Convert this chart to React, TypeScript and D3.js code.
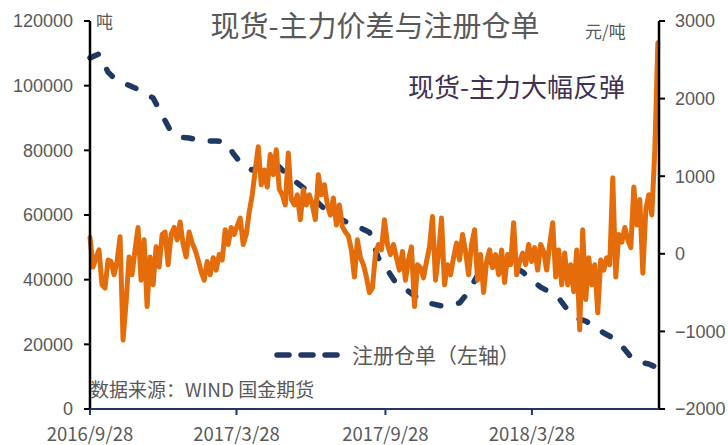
import React from "react";
import * as d3 from "d3";

// 现货-主力价差 (元/吨, right axis) sampled observations
const spreadValues: number[] = [
  210, -170, -50, 50, -400, -440, -80, -100, -270, -100,
  220, -1110, -630, -40, -270, 50, 340, -340, 180, -680,
  -40, -400, 90, -170, 250, 280, -140, 250, 340, 180,
  410, 120, -40, 280, 140, 50, -80, -230, -340, -100,
  -270, -50, -210, -10, -80, 310, 120, 340, 250, 360,
  460, 120, 250, 540, 760, 1080, 1380, 890, 1080, 860,
  1280, 1020, 1340, 830, 760, 630, 1300, 700, 630, 760,
  440, 830, 630, 760, 630, 440, 1020, 760, 890, 630,
  500, 720, 370, 630, 350, 280, 230, 50, -300, 180,
  -50, -140, -300, -500, -440, -10, 120, 50, 440, 120,
  -10, 120, -50, -210, 30, -340, -80, 90, -680, -140,
  -180, -310, -100, 90, 480, -340, -10, 460, -400, -140,
  -270, -50, 140, -80, 250, 30, -270, 120, 310, -340,
  -10, -500, -100, 50, -180, -10, -270, 50, -370, -10,
  -140, 400, -270, -100, 10, -140, 120, -100, 80, -210,
  120, 30, -210, 120, 400, -300, 50, -400, 10, -400,
  -140, -490, 50, -980, 310, -590, -50, -400, -140, -760,
  -80, -210, -50, -140, 980, -300, 250, 150, 340, 180,
  80, 860, 370, 700, -250, 570, 760, 500, 1340, 2720,
];

// 注册仓单 (吨, left axis), one value per third observation
const warrantValues: number[] = [
  108600, 109800, 104200, 101400, 100500, 99300, 97700, 96200, 90900, 85700,
  84100, 83800, 83200, 82900, 82900, 82600, 78600, 75200, 73900, 75500,
  76100, 74900, 72100, 69900, 67700, 64600, 61900, 60000, 58500, 56900,
  56000, 54700, 46700, 43000, 38700, 37100, 35000, 33400, 32500, 31900,
  32200, 32800, 36200, 41400, 45200, 45500, 44800, 43900, 42400, 39900,
  37700, 36200, 34300, 30600, 28100, 27200, 25400, 23500, 22000, 19500,
  16100, 14500, 13900, 12700,
];

const xTickLabels = ["2016/9/28", "2017/3/28", "2017/9/28", "2018/3/28"];
const leftTicks = [0, 20000, 40000, 60000, 80000, 100000, 120000];
const rightTicks = [-2000, -1000, 0, 1000, 2000, 3000];

const START = new Date(2016, 8, 28);
const END = new Date(2018, 8, 1);
const STEP_DAYS = 3.712;

const spreadDates = spreadValues.map((_, i) =>
  d3.timeHour.offset(START, Math.round(i * STEP_DAYS * 24))
);
const warrantDates = warrantValues.map((_, i) => spreadDates[i * 3]);
const parseTick = d3.timeParse("%Y/%m/%d");
const xTickDates = xTickLabels.map((s) => parseTick(s) as Date);

const W = 728;
const H = 445;
const left = 90;
const right = 659;
const top = 21;
const bottom = 409;

const NAVY = "#203864";
const ORANGE = "#E46C0A";
const GRAY = "#595959";
const CJK = "'Noto Sans CJK SC', 'Noto Sans', sans-serif";
const NUM = "'Liberation Sans', Arial, sans-serif";

export default function App() {
  const x = d3.scaleTime().domain([START, END]).range([left, right]);
  const yL = d3.scaleLinear().domain([0, 120000]).range([bottom, top]);
  const yR = d3.scaleLinear().domain([-2000, 3000]).range([bottom, top]);

  const spreadLine = d3
    .line<number>()
    .x((_, i) => x(spreadDates[i]))
    .y((d) => yR(d))(spreadValues) as string;
  const warrantLine = d3
    .line<number>()
    .x((_, i) => x(warrantDates[i]))
    .y((d) => yL(d))(warrantValues) as string;

  return (
    <svg
      width={W}
      height={H}
      style={{ position: "absolute", left: 0, top: 0, background: "#fff" }}
    >
      <rect x={0} y={0} width={W} height={H} fill="#fff" />
      {/* title */}
      <text x={375} y={37} textAnchor="middle" fontSize={29} fill={GRAY} fontFamily={CJK}>
        现货-主力价差与注册仓单
      </text>
      <text x={96} y={28} fontSize={17} fill={GRAY} fontFamily={CJK}>
        吨
      </text>
      <text x={585} y={38} fontSize={17} fill={GRAY} fontFamily={CJK}>
        元/吨
      </text>

      {/* series */}
      <path
        d={warrantLine}
        fill="none"
        stroke={NAVY}
        strokeWidth={5.5}
        strokeDasharray="9 18"
        strokeLinecap="round"
        strokeLinejoin="round"
      />
      <path
        d={spreadLine}
        fill="none"
        stroke={ORANGE}
        strokeWidth={5}
        strokeLinejoin="round"
        strokeLinecap="round"
      />

      {/* left axis */}
      <line x1={left} x2={left} y1={top} y2={bottom} stroke="#000" strokeWidth={2.5} />
      {leftTicks.map((t) => (
        <g key={"l" + t}>
          <line x1={left - 6} x2={left} y1={yL(t)} y2={yL(t)} stroke="#000" strokeWidth={2} />
          <text
            x={left - 17}
            y={yL(t)}
            dy="0.35em"
            textAnchor="end"
            fontSize={18}
            fill={GRAY}
            fontFamily={NUM}
          >
            {t}
          </text>
        </g>
      ))}

      {/* right axis */}
      <line x1={right} x2={right} y1={top} y2={bottom} stroke="#000" strokeWidth={2.5} />
      {rightTicks.map((t) => (
        <g key={"r" + t}>
          <line x1={right} x2={right + 6} y1={yR(t)} y2={yR(t)} stroke="#000" strokeWidth={2} />
          <text
            x={right + 16}
            y={yR(t)}
            dy="0.35em"
            textAnchor="start"
            fontSize={18}
            fill={GRAY}
            fontFamily={NUM}
          >
            {t < 0 ? "\u2212" + Math.abs(t) : t}
          </text>
        </g>
      ))}

      {/* x axis */}
      <line x1={left} x2={right} y1={bottom} y2={bottom} stroke={NAVY} strokeWidth={2} />
      {xTickDates.map((d, i) => (
        <g key={"x" + i}>
          <line x1={x(d)} x2={x(d)} y1={bottom} y2={bottom + 6} stroke={NAVY} strokeWidth={2} />
          <text
            x={x(d)}
            y={441}
            textAnchor="middle"
            fontSize={18.5}
            fill={GRAY}
            fontFamily={CJK}
          >
            {xTickLabels[i]}
          </text>
        </g>
      ))}

      {/* annotation */}
      <text x={408} y={97} fontSize={26} fill="#403152" fontFamily={CJK}>
        现货-主力大幅反弹
      </text>

      {/* legend */}
      <line
        x1={277}
        x2={343}
        y1={355}
        y2={355}
        stroke={NAVY}
        strokeWidth={5.5}
        strokeDasharray="12 12"
        strokeLinecap="round"
      />
      <text x={352} y={363} fontSize={21} fill={GRAY} fontFamily={CJK}>
        注册仓单（左轴）
      </text>

      {/* source */}
      <text x={90} y={397} fontSize={19} fill={GRAY} fontFamily={CJK}>
        数据来源：WIND 国金期货
      </text>
    </svg>
  );
}
